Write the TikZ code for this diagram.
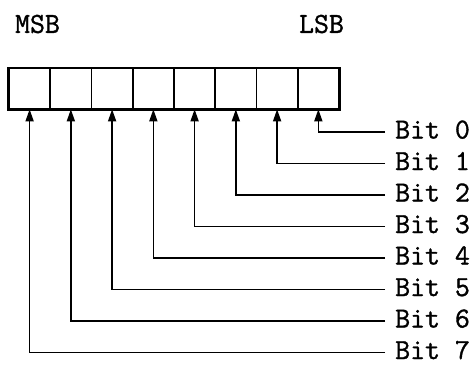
\documentclass[tikz,border=0pt]{standalone}
\usepackage{fontspec}
\newfontfamily\regfont{Latin Modern Mono}[FakeBold=1.2]
\usetikzlibrary{arrows.meta}

\begin{document}
\begin{tikzpicture}[
  x=1pt, y=-1pt,
  every node/.append style={font=\regfont\fontsize{29}{29}\selectfont},
  cell/.style={draw, line width=1.6pt, minimum width=41.25pt,
    minimum height=40pt, inner sep=0pt},
  frame/.style={draw, line width=2.4pt},
  feed/.style={draw, line width=1.5pt, -{Triangle[length=12pt, width=8pt]}},
  bitlabel/.style={anchor=west, inner xsep=10pt, inner ysep=0pt,
    text height=13pt, text depth=0pt},
  endlabel/.style={anchor=center, inner sep=0pt},
]
\useasboundingbox (0,0) rectangle (476,367);

% ------------------------------------------------------------ the register
% Eight cells, bit 7 at the left end, bit 0 at the right end.
\foreach \i in {0,...,7}{
  \node[cell] (c\i) at ({29.6+41.25*(7-\i)},88.5) {};
}
\draw[frame] (c7.north west) rectangle (c0.south east);

\node[endlabel] (msb) at (37.5,24) {MSB};
\node[endlabel] (lsb) at (321.5,24) {LSB};

% ---------------------------------------------------------- the bit lines
% One lane per bit, label on the right, line running left and up to its cell.
\foreach \i in {0,...,7}{
  \node[bitlabel] (bit\i) at (385,{132+31.5*\i}) {Bit \i};
  \draw[feed] (bit\i.west) -| (c\i.south);
}

\end{tikzpicture}
\end{document}
